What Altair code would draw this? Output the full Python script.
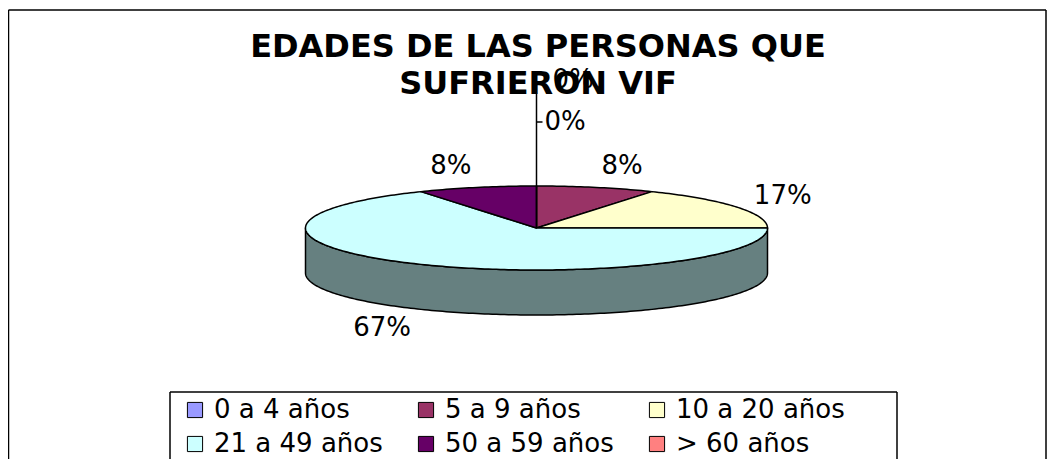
import math
import altair as alt
import pandas as pd

# ---------------- data ----------------
categories = ["0 a 4 años", "5 a 9 años", "10 a 20 años", "21 a 49 años", "50 a 59 años", "> 60 años"]
values = [0, 1, 2, 8, 1, 0]          # -> 0%, 8%, 17%, 67%, 8%, 0%
colors = ["#9999FF", "#993366", "#FFFFCC", "#CCFFFF", "#660066", "#FF8080"]
side_colors = ["#4D4D80", "#4D1A33", "#808066", "#668080", "#330033", "#804040"]
title_lines = ["EDADES DE LAS PERSONAS QUE", "SUFRIERON VIF"]

# ---------------- layout constants ----------------
W, H = 1039, 451
CX, CY = 528.5, 220.0
RX, RY = 231.0, 42.0
DEPTH = 45.0
FONT = "DejaVu Sans"

total = sum(values)
pcts = [round(v / total * 100) for v in values]


def pt(deg, dy=0.0):
    r = math.radians(deg)
    return CX + RX * math.sin(r), CY - RY * math.cos(r) + dy


top_rows, side_rows, label_rows, lead_rows = [], [], [], []
start = 0.0
zero_k = 0
zero_rise = [106, 148]
for cat, v, col, scol, p in zip(categories, values, colors, side_colors, pcts):
    span = v / total * 360.0
    a0, a1 = start, start + span
    start = a1
    if v > 0:
        i = 0
        top_rows.append(dict(cat=cat, i=i, x=CX, y=CY)); i += 1
        n = max(2, int(span))
        for k in range(n + 1):
            a = a0 + (a1 - a0) * k / n
            x, y = pt(a)
            top_rows.append(dict(cat=cat, i=i, x=x, y=y)); i += 1
        s, e = max(a0, 90.0), min(a1, 270.0)
        if s < e:
            j = 0
            m = max(2, int(e - s))
            for k in range(m + 1):
                a = s + (e - s) * k / m
                x, y = pt(a)
                side_rows.append(dict(cat=cat, side=scol, i=j, x=x, y=y)); j += 1
            for k in range(m, -1, -1):
                a = s + (e - s) * k / m
                x, y = pt(a, DEPTH)
                side_rows.append(dict(cat=cat, side=scol, i=j, x=x, y=y)); j += 1
        mid = math.radians((a0 + a1) / 2)
        sn, cs = math.sin(mid), math.cos(mid)
        lx = CX + (RX + 20) * sn
        ly = CY - (RY + 22) * cs + (DEPTH if cs < 0 else 0)
        al = "left" if sn > 0.1 else ("right" if sn < -0.1 else "center")
        label_rows.append(dict(x=lx, y=ly, txt=f"{p}%", al=al))
    else:
        rise = zero_rise[zero_k]
        ly = CY - rise
        if zero_k == 0:
            lead_rows.append(dict(x=CX, x2=CX + 6, y=ly, y2=ly))
            label_rows.append(dict(x=CX + 8, y=ly, txt=f"{p}%", al="left"))
        else:
            lead_rows.append(dict(x=CX, x2=CX, y=CY, y2=ly + 4))
            label_rows.append(dict(x=CX + 16, y=ly, txt=f"{p}%", al="left"))
        zero_k += 1

top_df = pd.DataFrame(top_rows)
side_df = pd.DataFrame(side_rows)
lab_df = pd.DataFrame(label_rows)
lead_df = pd.DataFrame(lead_rows)

xs = alt.Scale(domain=[0, W], nice=False, zero=False)
ys = alt.Scale(domain=[0, H], nice=False, zero=False, reverse=True)

side = alt.Chart(side_df).mark_line(
    interpolate="linear-closed", stroke="black", strokeWidth=1.5, strokeJoin="round"
).encode(
    x=alt.X("x:Q", scale=xs, axis=None),
    y=alt.Y("y:Q", scale=ys, axis=None),
    fill=alt.Fill("side:N", scale=None),
    detail="cat:N",
    order=alt.Order("i:Q"),
)

top = alt.Chart(top_df).mark_line(
    interpolate="linear-closed", stroke="black", strokeWidth=1.5, strokeJoin="round"
).encode(
    x=alt.X("x:Q", scale=xs, axis=None),
    y=alt.Y("y:Q", scale=ys, axis=None),
    fill=alt.Fill(
        "cat:N",
        scale=alt.Scale(domain=categories, range=colors),
        legend=alt.Legend(
            orient="none", legendX=174, legendY=389, columns=3, direction="horizontal",
            title=None, symbolType="square", symbolSize=230, symbolStrokeColor="black",
            symbolStrokeWidth=1, symbolOpacity=1, labelFont=FONT, labelFontSize=26,
            labelColor="black", columnPadding=30, rowPadding=8, labelOffset=6,
            gridAlign="each", labelLimit=400,
        ),
    ),
    detail="cat:N",
    order=alt.Order("i:Q"),
)

leaders = alt.Chart(lead_df).mark_rule(color="black", strokeWidth=1.5).encode(
    x=alt.X("x:Q", scale=xs, axis=None),
    x2="x2:Q",
    y=alt.Y("y:Q", scale=ys, axis=None),
    y2="y2:Q",
)

def label_layer(al):
    return alt.Chart(lab_df).transform_filter(alt.datum.al == al).mark_text(
        align=al, baseline="middle", font=FONT, fontSize=26, color="black"
    ).encode(
        x=alt.X("x:Q", scale=xs, axis=None),
        y=alt.Y("y:Q", scale=ys, axis=None),
        text="txt:N",
    )

one = alt.Data(values=[{"a": 1}])
title = alt.Chart(one).mark_text(
    text=title_lines, font=FONT, fontSize=32, fontWeight="bold", color="black",
    align="center", baseline="alphabetic", lineHeight=37,
).encode(x=alt.value(530), y=alt.value(49))

def rule(x, x2, y, y2):
    return alt.Chart(one).mark_rule(color="black", strokeWidth=1.5).encode(
        x=alt.value(x), x2=alt.value(x2), y=alt.value(y), y2=alt.value(y2)
    )

borders = [
    rule(0.5, 0.5, 2, H), rule(0.5, 1038, 2, 2), rule(1038, 1038, 2, H),
    rule(162, 162, 384, H), rule(162, 889, 384, 384), rule(889, 889, 384, H),
]

chart = alt.layer(
    *borders, title, side, top, leaders,
    label_layer("left"), label_layer("right"), label_layer("center"),
).properties(
    width=W, height=H, autosize=alt.AutoSizeParams(type="none"),
    padding=0, background="white",
).configure_view(stroke=None)

chart.save("out.html", embed_options={"renderer": "svg", "actions": False})
